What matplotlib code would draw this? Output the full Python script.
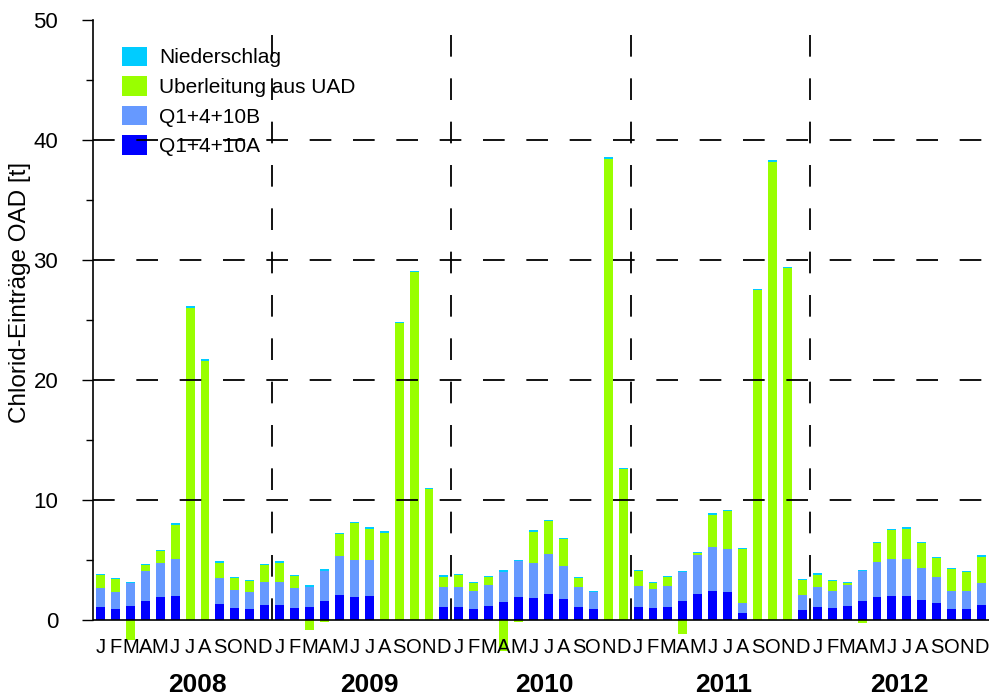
import matplotlib
matplotlib.use('Agg')
import matplotlib.pyplot as plt
import matplotlib.transforms as mtransforms
import numpy as np

plt.rcParams['font.family'] = ['Liberation Sans', 'DejaVu Sans']

# monthly chloride inputs [t], Jan 2008 .. Dec 2012
years = ['2008', '2009', '2010', '2011', '2012']
month_letters = ['J', 'F', 'M', 'A', 'M', 'J', 'J', 'A', 'S', 'O', 'N', 'D']

q_a = [1.05, 0.92, 1.17, 1.60, 1.90, 2.00, 0, 0, 1.33, 0.97, 0.92, 1.25,
       1.22, 1.03, 1.08, 1.58, 2.08, 1.92, 2.00, 0, 0, 0, 0, 1.08,
       1.08, 0.92, 1.17, 1.50, 1.89, 1.86, 2.17, 1.78, 1.08, 0.92, 0, 0,
       1.11, 1.00, 1.11, 1.56, 2.17, 2.44, 2.36, 0.56, 0, 0, 0, 0.83,
       1.11, 0.97, 1.17, 1.58, 1.92, 2.00, 2.03, 1.69, 1.42, 0.94, 0.94, 1.25]

q_b = [1.65, 1.41, 1.90, 2.50, 2.85, 3.10, 0, 0, 2.14, 1.53, 1.41, 1.92,
       1.97, 1.66, 1.70, 2.53, 3.25, 3.05, 2.97, 0, 0, 0, 0, 1.70,
       1.64, 1.50, 1.77, 2.50, 3.03, 2.92, 3.30, 2.72, 1.70, 1.39, 0, 0,
       1.72, 1.56, 1.75, 2.44, 3.25, 3.67, 3.58, 0.88, 0, 0, 0, 1.28,
       1.64, 1.47, 1.72, 2.50, 2.91, 3.06, 3.05, 2.64, 2.16, 1.50, 1.45, 1.86]

uad = [1.05, 1.06, -1.65, 0.45, 1.00, 2.85, 26.0, 21.6, 1.31, 0.97, 0.89, 1.39,
       1.58, 1.00, -0.85, -0.20, 1.81, 3.09, 2.64, 7.28, 24.75, 29.0, 10.9, 0.83,
       1.06, 0.64, 0.64, -2.60, -0.15, 2.58, 2.78, 2.22, 0.75, 0.05, 38.45, 12.55,
       1.28, 0.55, 0.75, -1.15, 0.16, 2.67, 3.12, 4.45, 27.5, 38.2, 29.3, 1.25,
       1.03, 0.78, 0.17, -0.28, 1.59, 2.41, 2.53, 2.09, 1.61, 1.78, 1.64, 2.17]

rain = [0.08, 0.08, 0.10, 0.10, 0.12, 0.12, 0.15, 0.15, 0.10, 0.09, 0.10, 0.08,
        0.12, 0.09, 0.16, 0.11, 0.14, 0.11, 0.11, 0.11, 0.12, 0.12, 0.10, 0.11,
        0.08, 0.08, 0.09, 0.14, 0.08, 0.14, 0.11, 0.11, 0.08, 0.08, 0.15, 0.08,
        0.08, 0.08, 0.08, 0.11, 0.11, 0.14, 0.11, 0.11, 0.12, 0.12, 0.10, 0.08,
        0.14, 0.11, 0.11, 0.11, 0.11, 0.11, 0.11, 0.11, 0.09, 0.11, 0.08, 0.14]

# x positions of the year captions (slightly right of year centre as in the original)
year_label_x = [6.5, 18.0, 29.7, 41.7, 53.5]

c_a = '#0000ff'
c_b = '#6699ff'
c_uad = '#99ff00'
c_rain = '#00ccff'

q_a = np.array(q_a)
q_b = np.array(q_b)
uad = np.array(uad)
rain = np.array(rain)
x = np.arange(len(q_a))

fig = plt.figure(figsize=(9.89, 6.98), dpi=100)
ax = fig.add_axes([93 / 989, 42 / 698, 896 / 989, 636 / 698])

w = 0.6
base_ab = q_a + q_b
uad_bottom = np.where(uad >= 0, base_ab, 0)
rain_bottom = base_ab + np.clip(uad, 0, None)

ax.bar(x, q_a, w, color=c_a, label='Q1+4+10A', zorder=2)
ax.bar(x, q_b, w, bottom=q_a, color=c_b, label='Q1+4+10B', zorder=2)
ax.bar(x, uad, w, bottom=uad_bottom, color=c_uad, label='Uberleitung aus UAD', zorder=2)
ax.bar(x, rain, w, bottom=rain_bottom, color=c_rain, label='Niederschlag', zorder=2)

ax.set_xlim(-0.5, len(x) - 0.5)
ax.set_ylim(-3, 50)

# dashed grid on top of the bars
for yv in [10, 20, 30, 40]:
    ax.axhline(yv, color='black', lw=1.3, dashes=(12, 12), zorder=5)
for i in range(1, len(years)):
    ax.plot([12 * i - 0.5] * 2, [0, 50], color='black', lw=1.3, dashes=(12, 12), zorder=5)
ax.axhline(0, color='black', lw=1.2, zorder=4)

for s in ['top', 'right', 'bottom']:
    ax.spines[s].set_visible(False)
ax.spines['left'].set_bounds(0, 50)
ax.spines['left'].set_linewidth(1.2)

ax.set_yticks(np.arange(0, 51, 10))
ax.set_yticks(np.arange(5, 50, 10), minor=True)
ax.tick_params(axis='y', which='major', length=8, width=1, pad=17, labelsize=16)
ax.tick_params(axis='y', which='minor', length=5, width=1)
ax.set_xticks([])
ax.set_ylabel('Chlorid-Einträge OAD [t]', fontsize=17.5)
ax.yaxis.set_label_coords(-0.069, 0.572)

# month letters and year captions below the axis
trans = mtransforms.blended_transform_factory(ax.transData, ax.transData)
for i in x:
    ax.text(i, -2.3, month_letters[i % 12], ha='center', va='center',
            fontsize=14.5, transform=trans, clip_on=False, zorder=6)
for xl, yr in zip(year_label_x, years):
    ax.text(xl, -5.45, yr, ha='center', va='center', fontsize=19,
            fontweight='bold', transform=trans, clip_on=False)

handles, labels = ax.get_legend_handles_labels()
leg = ax.legend(handles[::-1], labels[::-1], loc='upper left',
                bbox_to_anchor=(0.032, 0.958), frameon=False, fontsize=15,
                handlelength=1.2, handleheight=1.05, labelspacing=0.42,
                handletextpad=0.6, borderpad=0, borderaxespad=0)
leg.set_zorder(3)

fig.savefig('out.png', dpi=100)
